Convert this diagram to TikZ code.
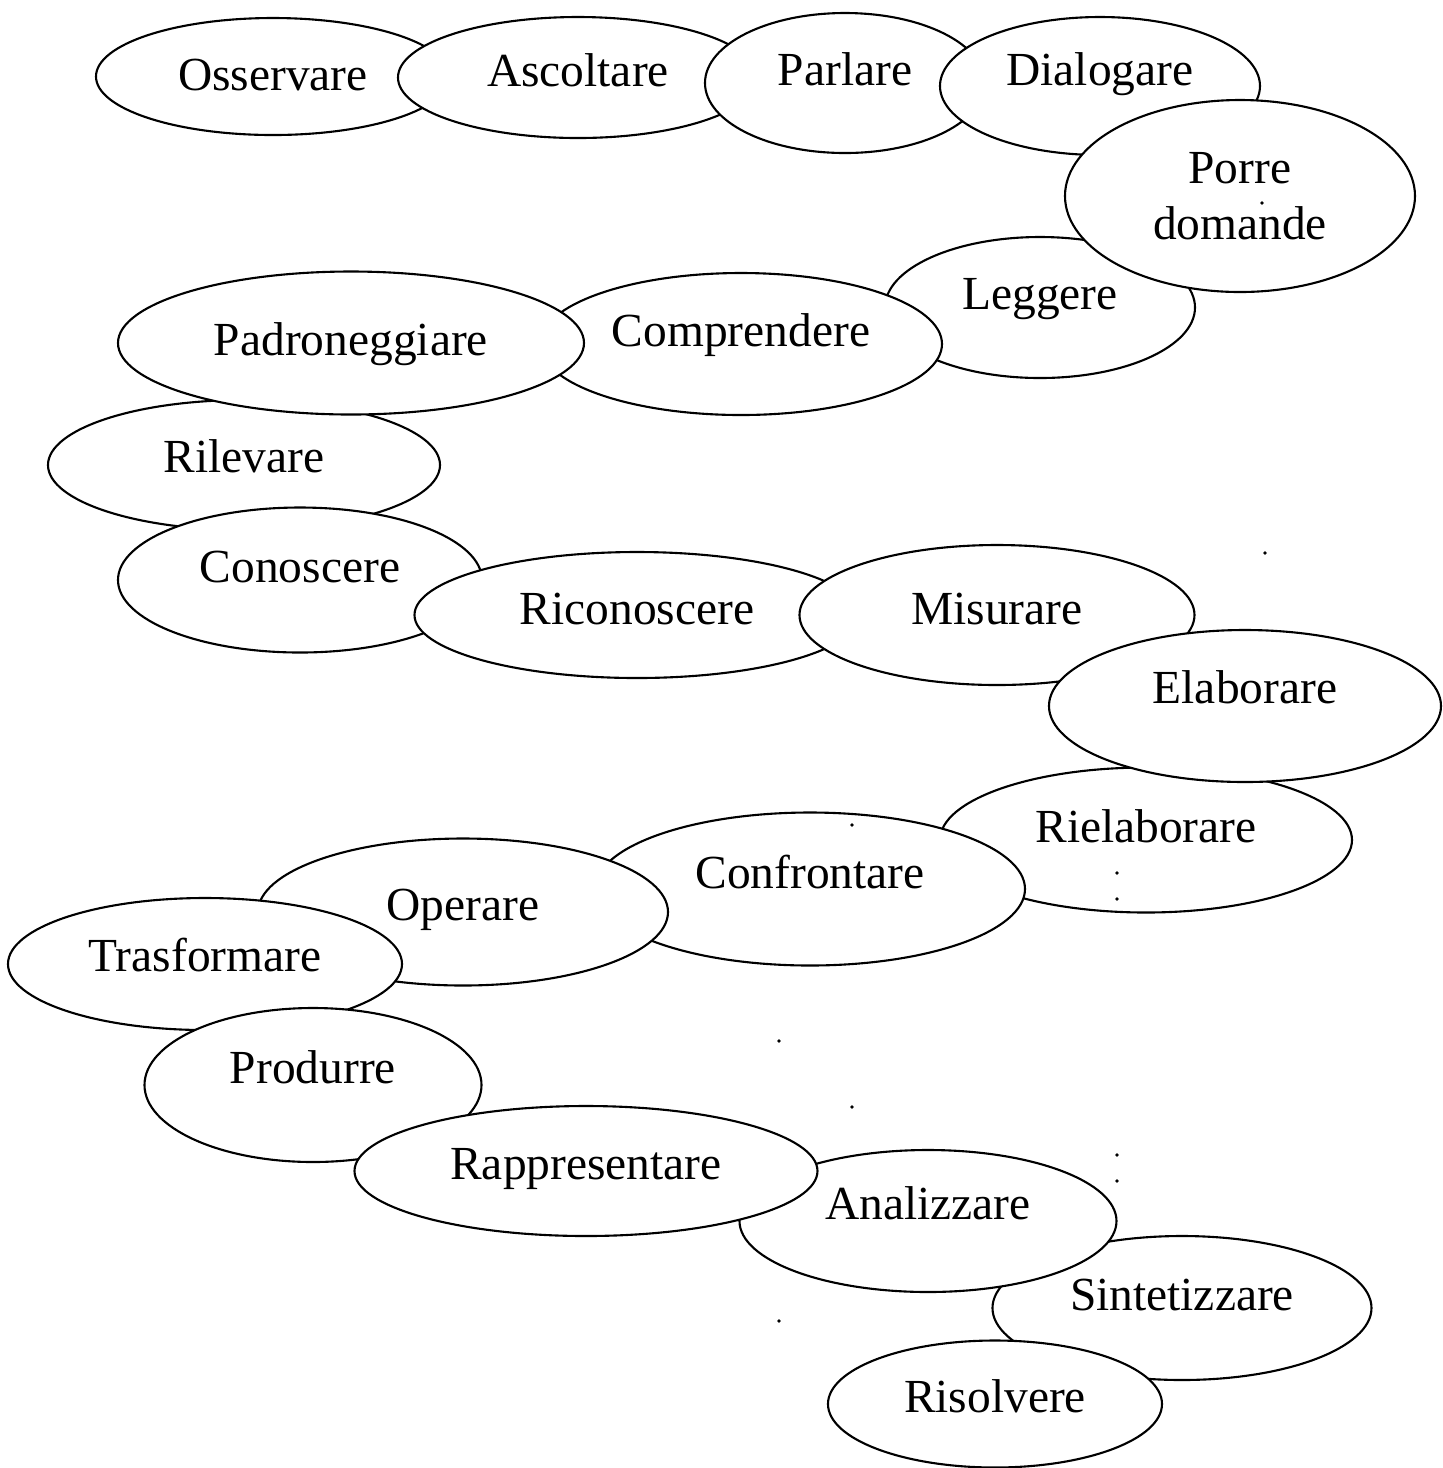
\documentclass[tikz,border=0pt]{standalone}
\usepackage{fontspec}
\setmainfont{Liberation Serif}
\usetikzlibrary{shapes.geometric}
\begin{document}
\begin{tikzpicture}[
		bubble/.style 2 args={ellipse,draw,fill=white,line width=0.6pt,inner sep=0pt,
			minimum width=#1cm,minimum height=#2cm,text height=0.34cm,text depth=0.3cm,
			font=\fontsize{13.5}{16}\selectfont},
		speck/.style={circle,fill=black,inner sep=0pt,minimum size=1.1pt}]
		\useasboundingbox (0,0) rectangle (14.43,-14.68);
		\node[bubble={3.54}{1.17},text depth=0.06cm] (oss) at (2.73,-0.765) {Osservare};
		\node[bubble={3.60}{1.21},text depth=0.16cm] (asc) at (5.78,-0.775) {Ascoltare};
		\node[bubble={2.80}{1.40}] (par) at (8.45,-0.83) {Parlare};
		\node[bubble={3.20}{1.38},text depth=0.36cm] (dia) at (11.00,-0.86) {Dialogare};
		\node[bubble={3.10}{1.41}] (leg) at (10.40,-3.075) {Leggere};
		\node[bubble={3.50}{1.92},align=center,text height=,text depth=] (por) at (12.40,-1.96) {Porre\\domande};
		\node[bubble={4.02}{1.42}] (com) at (7.41,-3.44) {Comprendere};
		\node[bubble={3.92}{1.30},text depth=0.2cm] (ril) at (2.44,-4.65) {Rilevare};
		\node[bubble={4.66}{1.43},text depth=0.1cm] (pad) at (3.51,-3.43) {Padroneggiare};
		\node[bubble={3.64}{1.45}] (con) at (3.00,-5.80) {Conoscere};
		\node[bubble={4.45}{1.26},text depth=0.16cm] (ric) at (6.37,-6.15) {Riconoscere};
		\node[bubble={3.95}{1.40},text depth=0.16cm] (mis) at (9.97,-6.15) {Misurare};
		\node[bubble={4.12}{1.45}] (rie) at (11.46,-8.40) {Rielaborare};
		\node[bubble={3.92}{1.52},text depth=0.4cm] (ela) at (12.45,-7.06) {Elaborare};
		\node[bubble={4.30}{1.53},text depth=0.36cm] (cfr) at (8.10,-8.89) {Confrontare};
		\node[bubble={4.10}{1.47},text depth=0.18cm] (ope) at (4.63,-9.12) {Operare};
		\node[bubble={3.94}{1.32},text depth=0.2cm] (tra) at (2.05,-9.64) {Trasformare};
		\node[bubble={3.37}{1.54},text depth=0.38cm] (pro) at (3.13,-10.85) {Produrre};
		\node[bubble={3.79}{1.44}] (sin) at (11.82,-13.08) {Sintetizzare};
		\node[bubble={3.77}{1.42},text depth=0.38cm] (ana) at (9.28,-12.21) {Analizzare};
		\node[bubble={4.63}{1.30},text depth=0.18cm] (rap) at (5.86,-11.71) {Rappresentare};
		\node[bubble={3.34}{1.27},text depth=0.18cm] (ris) at (9.95,-14.04) {Risolvere};
		\node[speck] (s1) at (12.62,-2.03) {};
		\node[speck] (s2) at (12.65,-5.53) {};
		\node[speck] (s3) at (8.52,-8.25) {};
		\node[speck] (s4) at (11.17,-8.73) {};
		\node[speck] (s5) at (11.17,-8.99) {};
		\node[speck] (s6) at (7.79,-10.41) {};
		\node[speck] (s7) at (8.52,-11.07) {};
		\node[speck] (s8) at (11.17,-11.55) {};
		\node[speck] (s9) at (11.17,-11.81) {};
		\node[speck] (s10) at (7.79,-13.21) {};
	\end{tikzpicture}
\end{document}
